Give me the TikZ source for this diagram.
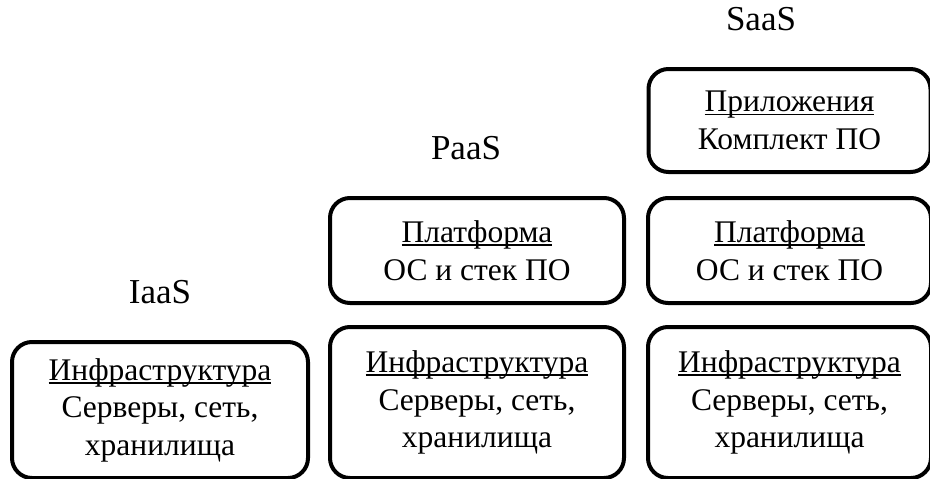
\documentclass[tikz,border=0pt]{standalone}
\usepackage{fontspec}
\setmainfont{Liberation Serif}
\usetikzlibrary{positioning}
\newcommand\lined[1]{\setbox0=\hbox{#1}\rlap{\rule[-3.5pt]{\wd0}{1.8pt}}\box0}
\tikzstyle{layer} = [rectangle, draw, line width=4pt, rounded corners=20pt,
align=center, inner sep=0pt, font=\fontsize{31.5}{37.5}\selectfont]
\tikzstyle{model} = [inner sep=0pt, font=\fontsize{35}{40}\selectfont]

\begin{document}
\begin{tikzpicture}[x=1pt, y=-1pt, node distance=20pt]
\useasboundingbox (0,0) rectangle (930,479);
	\node (InfraI) [layer, minimum width=296pt, minimum height=136pt] at (160,410) {\lined{Инфраструктура}\\Серверы, сеть,\\хранилища};
	\node (InfraP) [layer, minimum width=294pt, minimum height=151pt] at (477,402.5) {\lined{Инфраструктура}\\Серверы, сеть,\\хранилища};
	\node (InfraS) [layer, minimum width=283pt, minimum height=151pt, right=of InfraP] {\lined{Инфраструктура}\\Серверы, сеть,\\хранилища};
	\node (PlatP) [layer, minimum width=294pt, minimum height=105pt, above=of InfraP] {\lined{Платформа}\\ОС и стек ПО};
	\node (PlatS) [layer, minimum width=283pt, minimum height=105pt, above=of InfraS] {\lined{Платформа}\\ОС и стек ПО};
	\node (App) [layer, minimum width=282pt, minimum height=103pt, above=22pt of PlatS] {\lined{Приложения}\\Комплект ПО};

	\node (IaaS) [model, above=35.5pt of InfraI] {IaaS};
	\node (PaaS) [model, above=35.5pt of PlatP, xshift=-11pt] {PaaS};
	\node (SaaS) [model, above=35.5pt of App, xshift=-28.5pt] {SaaS};
\end{tikzpicture}
\end{document}
